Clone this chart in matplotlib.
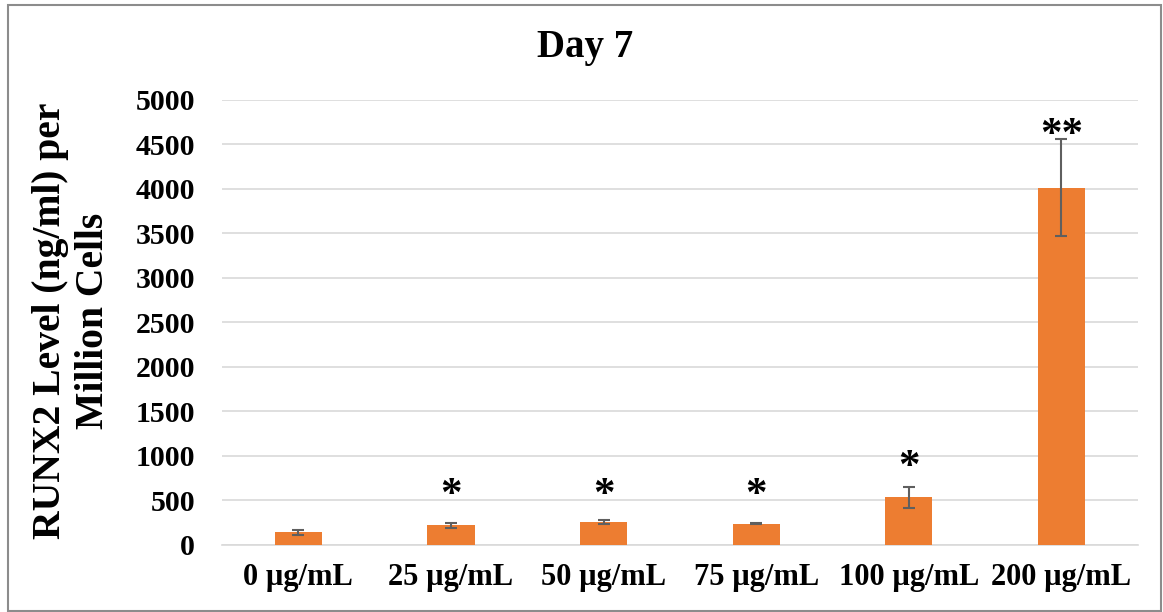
import matplotlib
matplotlib.use("Agg")
import matplotlib.pyplot as plt
from matplotlib.patches import Rectangle

categories = ["0 µg/mL", "25 µg/mL", "50 µg/mL", "75 µg/mL", "100 µg/mL", "200 µg/mL"]
values = [135, 214, 250, 236, 532, 4015]
errors = [25, 25, 22, 8, 120, 545]
marks = ["", "*", "*", "*", "*", "**"]
mark_y = [0, 545, 545, 545, 860, 4595]

plt.rcParams["font.family"] = ["Liberation Serif", "DejaVu Serif"]
plt.rcParams["font.weight"] = "bold"

W, H = 1163, 612
fig = plt.figure(figsize=(W / 100, H / 100), dpi=100)
ax = fig.add_axes([222 / W, 1 - 544.5 / H, (1137.7 - 222) / W, (544.5 - 100) / H])

x = list(range(len(categories)))
ax.bar(x, values, width=0.31, color="#ED7D31", zorder=3)
ax.errorbar(x, values, yerr=errors, fmt="none", ecolor="#5f5f5f",
            elinewidth=1.5, capsize=4.5, capthick=1.5, zorder=4)

for xi, m, my in zip(x, marks, mark_y):
    if m:
        ax.text(xi, my, m, ha="center", va="center", fontsize=31,
                fontweight="bold", zorder=5)

ax.set_xlim(-0.5, len(categories) - 0.5)
ax.set_ylim(0, 5000)
ax.set_yticks(range(0, 5001, 500))
ax.set_xticks(x)
ax.set_xticklabels(categories, fontsize=22, fontweight="bold")
ax.tick_params(axis="y", labelsize=21.5, length=0, pad=19.5)
ax.tick_params(axis="x", length=0, pad=13)
for lbl in ax.get_yticklabels():
    lbl.set_fontweight("bold")
ax.grid(axis="y", color="#d9d9d9", linewidth=1.2, zorder=0)
for s in ["top", "right", "left"]:
    ax.spines[s].set_visible(False)
ax.spines["bottom"].set_color("#d9d9d9")
ax.spines["bottom"].set_linewidth(1.2)

fig.text(585 / W, 1 - 47 / H, "Day 7", ha="center", va="center",
         fontsize=28, fontweight="bold")
fig.text(72 / W, 1 - 321 / H, "RUNX2 Level (ng/ml) per\nMillion Cells",
         rotation=90, ha="center", va="center", multialignment="center",
         fontsize=28.5, fontweight="bold", linespacing=1.2)

fig.patches.append(Rectangle((8 / W, 1 / H), (1161 - 8) / W, (606) / H,
                             transform=fig.transFigure, fill=False,
                             edgecolor="#8c8c8c", linewidth=1.5))

fig.savefig("out.png", dpi=100)
